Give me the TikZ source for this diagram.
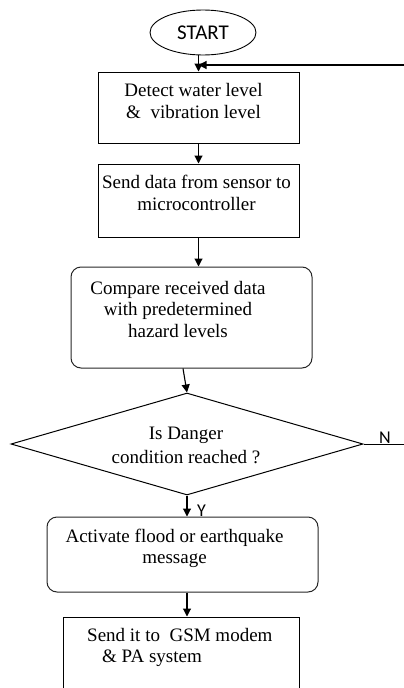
\documentclass[tikz,border=0pt]{standalone}
\usepackage{fontspec}
\setmainfont{Liberation Serif}
\newfontfamily\capfont{Carlito}
\usetikzlibrary{shapes.geometric,arrows.meta}

\begin{document}
\begin{tikzpicture}[x=1pt,y=-1pt,
	every node/.style={font=\fontsize{19}{21.5}\selectfont},
	box/.style={draw,line width=1pt,inner sep=0pt},
	roundbox/.style={box,draw=black!85,rounded corners=10pt},
	txt/.style={align=center,inner sep=0pt,anchor=base},
	tag/.style={font=\capfont\fontsize{18}{20}\selectfont,inner sep=0pt,anchor=base west},
	arr/.style={line width=1.1pt,-{Triangle[length=8pt,width=8pt]}}]
	\clip (0,0) rectangle (404,688);
	
	\coordinate (s0) at (203,32.5);
	\coordinate (b1) at (198.5,107.5);
	\coordinate (b2) at (198.5,200.5);
	\coordinate (b3) at (191.5,317.5);
	\coordinate (d4) at (187,444);
	\coordinate (b5) at (182.5,554.5);
	\coordinate (b6) at (181,667);
	\coordinate (loopin) at (198.5,65);
	\coordinate (loopright) at (410,65);
	\coordinate (nout) at (410,444);
	
	\node (start) at (s0) [draw,line width=0.9pt,ellipse,inner sep=0pt,minimum width=106pt,minimum height=45pt,font=\capfont\fontsize{21}{24}\selectfont] {START};
	\node (detect) at (b1) [box,minimum width=201pt,minimum height=71pt] {};
	\node (sendd) at (b2) [box,minimum width=201pt,minimum height=73pt] {};
	\node (compare) at (b3) [roundbox,minimum width=241pt,minimum height=101pt] {};
	\node (decide) at (d4) [draw,line width=1pt,diamond,inner sep=0pt,minimum width=352pt,minimum height=102pt] {};
	\node (activate) at (b5) [roundbox,minimum width=271pt,minimum height=75pt] {};
	\node (sendgsm) at (b6) [box,minimum width=236pt,minimum height=100pt] {};
	
	% text blocks, placed at the baseline of their last line
	\node (detect-t) at (193.5,118) [txt] {Detect water level\\\&\ \ vibration level};
	\node (sendd-t) at (196.5,210) [txt] {Send data from sensor to\\microcontroller};
	\node (compare-t) at (178,337) [txt] {Compare received data\\with predetermined\\hazard levels};
	\node (decide-t) at (186,463) [txt,font=\fontsize{19}{24}\selectfont] {Is Danger\\condition reached ?};
	\node (activate-t) at (174.5,563) [txt,font=\fontsize{19}{20.5}\selectfont] {Activate flood or earthquake\\message};
	\node (sendgsm-t) at (87,662) [txt,align=left,anchor=base west,font=\fontsize{19}{20.5}\selectfont] {Send it to\ \ GSM modem\\\hspace*{15pt}\& PA system};
	\node (no) at (379,443) [tag] {N};
	\node (yes) at (197,516) [tag] {Y};
	
	\draw[arr] (detect.north |- start.south) -- (detect.north);
	\draw[arr] (loopright) -- (loopin);
	\draw[arr] (detect) -- (sendd);
	\draw[arr] (sendd.south) -- (sendd.south |- compare.north);
	\draw[arr] ([xshift=-8.5pt]compare.south) -- (decide.north);
	\draw[arr] (decide.south) -- (decide.south |- activate.north);
	\draw[arr] (decide.south |- activate.south) -- (decide.south |- sendgsm.north);
	\draw[line width=1pt] (decide.east) -- (nout);
\end{tikzpicture}
\end{document}
